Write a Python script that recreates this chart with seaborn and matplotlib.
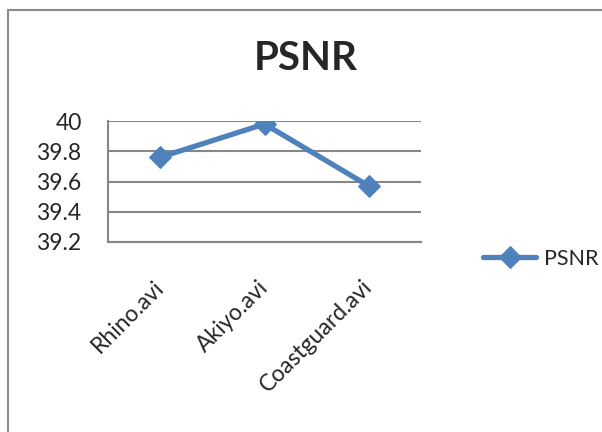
import numpy as np
import pandas as pd
import matplotlib
matplotlib.use("Agg")
import matplotlib.pyplot as plt
from matplotlib.patches import Rectangle
from matplotlib.ticker import FixedLocator
import seaborn as sns

# data
videos = ["Rhino.avi", "Akiyo.avi", "Coastguard.avi"]
psnr = [39.76, 39.98, 39.57]
y_ticks = [39.2, 39.4, 39.6, 39.8, 40.0]
y_labels = ["39.2", "39.4", "39.6", "39.8", "40"]

df = pd.DataFrame({"video": videos, "PSNR": psnr})

sns.set_style("white")
plt.rcParams["font.family"] = ["Lato", "DejaVu Sans"]

fig = plt.figure(figsize=(6.02, 4.32), dpi=100)
ax = fig.add_axes([108 / 602, 1 - 242 / 432, (421 - 108) / 602, (242 - 121) / 432])

blue = "#4F81BD"
grey = "#878787"
fs = 16.5

sns.lineplot(data=df, x="video", y="PSNR", sort=False, color=blue, lw=3.8,
             marker="D", markersize=11, markeredgecolor=blue, label="PSNR", ax=ax)

# Axis ranges and ticks
ax.set_xlim(-0.5, 2.5)
ax.set_ylim(39.2, 40.0)
ax.set_yticks(y_ticks)
ax.set_yticklabels(y_labels, fontsize=fs)
ax.set_xticks(range(len(videos)))
ax.set_xticklabels(videos, rotation=45, ha="right", va="center",
                   rotation_mode="anchor", fontsize=fs)
ax.xaxis.set_minor_locator(FixedLocator([-0.5, 0.5, 1.5, 2.5]))
ax.tick_params(axis="x", which="major", length=0, pad=30)
ax.tick_params(axis="x", which="minor", length=7, width=1.5, color=grey, direction="out")
ax.tick_params(axis="y", length=7, width=1.5, color=grey, direction="out", pad=12)
ax.set_xlabel("")
ax.set_ylabel("")

# grid and spines
ax.grid(axis="y", color=grey, lw=1.5)
ax.set_axisbelow(True)
for s in ["top", "right"]:
    ax.spines[s].set_visible(False)
for s in ["left", "bottom"]:
    ax.spines[s].set_color(grey)
    ax.spines[s].set_linewidth(1.5)

# title
fig.text(306 / 602, 1 - 59 / 432, "PSNR", ha="center", va="center",
         fontsize=29, fontweight="bold")

# legend
ax.legend(loc="center left", bbox_to_anchor=(474 / 602, 1 - 259 / 432),
          bbox_transform=fig.transFigure, frameon=False, fontsize=15.5,
          handlelength=2.5, handletextpad=0.35, borderaxespad=0)

# outer chart border
fig.add_artist(Rectangle((7.5 / 602, -0.05), 1.1, 0.05 + 1 - 9.5 / 432,
                         transform=fig.transFigure, fill=False,
                         edgecolor="#8c8c8c", lw=1.5, clip_on=False))

fig.savefig("out.png", dpi=100)
